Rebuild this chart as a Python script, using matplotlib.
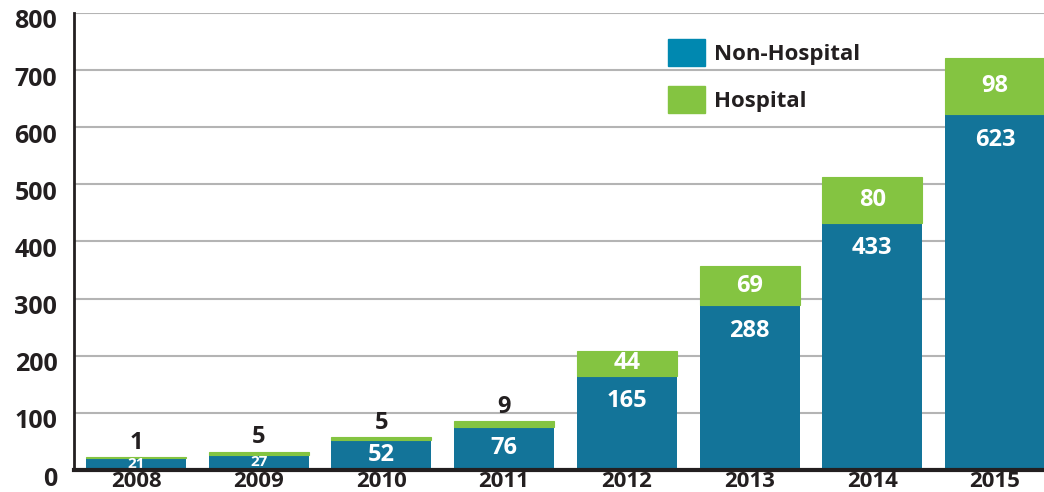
import matplotlib.pyplot as plt
from matplotlib.patches import Patch
from matplotlib.transforms import ScaledTranslation

plt.rcParams['font.family'] = ['Open Sans', 'DejaVu Sans']

years = ["2008", "2009", "2010", "2011", "2012", "2013", "2014", "2015"]
non_hospital = [21, 27, 52, 76, 165, 288, 433, 623]
hospital = [1, 5, 5, 9, 44, 69, 80, 98]

blue = "#137499"
green = "#84c441"
dark = "#231f20"

fig = plt.figure(figsize=(10.44, 4.92), dpi=100)
ax = fig.add_axes([0.0709, 0.0447, 0.9291, 0.929])

x = range(len(years))
ax.bar(x, non_hospital, width=0.815, color=blue, zorder=3)
ax.bar(x, hospital, width=0.815, bottom=non_hospital, color=green,
       edgecolor=green, linewidth=0.8, zorder=3)

for i, (n, h) in enumerate(zip(non_hospital, hospital)):
    small = n < 40
    # labels sit near the top of the blue part, or in the middle of short bars
    ypos = max(n / 2, n - 45)
    ax.text(i, ypos, str(n), ha="center", va="center", color="white",
            fontweight="bold", fontsize=11 if small else 17, zorder=4)
    if h < 20:
        ax.text(i, n + h + 4, str(h), ha="center", va="bottom", color=dark,
                fontweight="bold", fontsize=17, zorder=4)
    else:
        ax.text(i, n + h / 2, str(h), ha="center", va="center", color="white",
                fontweight="bold", fontsize=17, zorder=4)

ax.set_ylim(0, 800)
ax.set_xlim(-0.505, 7.40)
ax.set_yticks(range(0, 801, 100))
ax.set_xticks(list(x))
ax.set_xticklabels(years)
ax.tick_params(axis="both", length=0, colors=dark)
ax.tick_params(axis="y", labelsize=18, pad=12)
ax.tick_params(axis="x", labelsize=16, pad=1)
for lab in ax.get_xticklabels() + ax.get_yticklabels():
    lab.set_fontweight("bold")

# y labels sit a little below their gridlines in the original
shift = ScaledTranslation(0, -6 / 100, fig.dpi_scale_trans)
for lab in ax.get_yticklabels():
    lab.set_transform(lab.get_transform() + shift)

ax.grid(axis="y", color="#b4b4b4", linewidth=1.5, zorder=0)
ax.spines["top"].set_visible(False)
ax.spines["right"].set_visible(False)
ax.spines["left"].set_linewidth(2)
ax.spines["left"].set_color(dark)
ax.spines["bottom"].set_linewidth(3)
ax.spines["bottom"].set_color(dark)
ax.spines["bottom"].set_zorder(5)

handles = [Patch(color="#0088b0", label="Non-Hospital"),
           Patch(color=green, label="Hospital")]
leg = ax.legend(handles=handles, loc="upper left", bbox_to_anchor=(0.612, 0.943),
                frameon=False, prop={"size": 16, "weight": "bold"},
                handlelength=1.67, handleheight=1.5, labelspacing=0.9,
                handletextpad=0.4, borderaxespad=0, borderpad=0)
for t in leg.get_texts():
    t.set_color(dark)

fig.savefig("out.png", dpi=100)
